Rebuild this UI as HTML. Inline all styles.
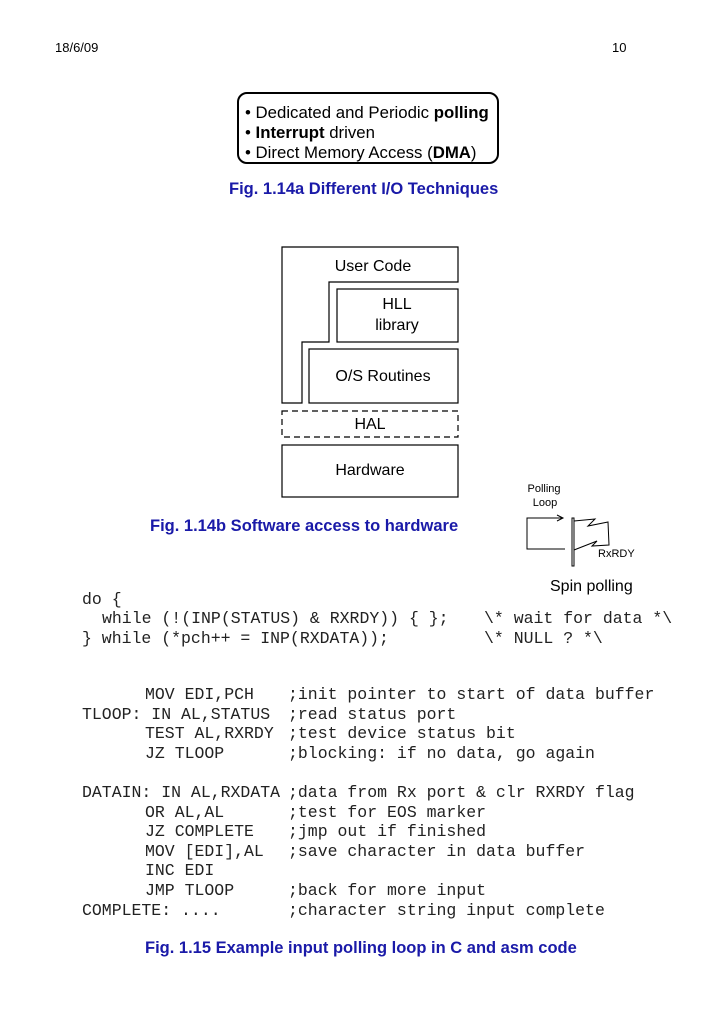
<!DOCTYPE html>
<html><head><meta charset="utf-8"><style>
html,body{margin:0;padding:0;background:#fff}
svg{display:block}
.s{font-family:"Liberation Sans",sans-serif}
.m{font-family:"Liberation Mono",monospace;font-size:16.5px;fill:#222}
.cap{font-family:"Liberation Sans",sans-serif;font-weight:bold;font-size:16.5px;fill:#1a1aa8}
</style></head><body>
<svg width="728" height="1030" viewBox="0 0 728 1030" xmlns="http://www.w3.org/2000/svg" xml:space="preserve">
<text class="s" x="55" y="52" font-size="13">18/6/09</text>
<text class="s" x="612" y="52" font-size="13">10</text>

<rect x="238" y="93" width="260" height="70" rx="9" fill="none" stroke="#000" stroke-width="2"/>
<g class="s" font-size="16.8">
<text x="245" y="118">• Dedicated and Periodic <tspan font-weight="bold">polling</tspan></text>
<text x="245" y="138">• <tspan font-weight="bold">Interrupt</tspan> driven</text>
<text x="245" y="158">• Direct Memory Access (<tspan font-weight="bold">DMA</tspan>)</text>
</g>
<text class="cap" x="229" y="194">Fig. 1.14a  Different I/O Techniques</text>

<g fill="none" stroke="#000" stroke-width="1.2">
<path d="M282 247 H458 V282 H329 V342 H302 V403 H282 Z"/>
<rect x="337" y="289" width="121" height="53"/>
<rect x="309" y="349" width="149" height="54"/>
<rect x="282" y="411" width="176" height="26" stroke-dasharray="6,4"/>
<rect x="282" y="445" width="176" height="52"/>
</g>
<g class="s" font-size="16" text-anchor="middle">
<text x="373" y="271">User Code</text>
<text x="397" y="309">HLL</text>
<text x="397" y="330">library</text>
<text x="383" y="381">O/S Routines</text>
<text x="370" y="429">HAL</text>
<text x="370" y="475">Hardware</text>
</g>
<text class="cap" x="150" y="531">Fig. 1.14b  Software access to hardware</text>

<g class="s" font-size="11" text-anchor="middle">
<text x="544" y="492">Polling</text>
<text x="545" y="506">Loop</text>
</g>
<g fill="none" stroke="#000" stroke-width="1">
<path d="M565 549 H527 V518 H562"/>
<path d="M557 515 L563 518 L557 521"/>
<rect x="572" y="518" width="2" height="48"/>
<path d="M574 521 L595 519 L588 526 L608 522 L609 545 L592 546 L597 541 L574 550"/>
</g>
<text class="s" x="598" y="557" font-size="11">RxRDY</text>
<text class="s" x="550" y="591" font-size="16">Spin polling</text>

<g class="m">
<text x="82" y="604">do {</text>
<text x="102" y="623">while (!(INP(STATUS) &amp; RXRDY)) { };</text>
<text x="484" y="623">\* wait for data *\</text>
<text x="82" y="643">} while (*pch++ = INP(RXDATA));</text>
<text x="484" y="643">\* NULL ? *\</text>

<text x="145" y="699">MOV EDI,PCH</text>
<text x="82" y="719">TLOOP: IN AL,STATUS</text>
<text x="145" y="738">TEST AL,RXRDY</text>
<text x="145" y="758">JZ TLOOP</text>
<text x="82" y="797">DATAIN: IN AL,RXDATA</text>
<text x="145" y="817">OR AL,AL</text>
<text x="145" y="836">JZ COMPLETE</text>
<text x="145" y="856">MOV [EDI],AL</text>
<text x="145" y="875">INC EDI</text>
<text x="145" y="895">JMP TLOOP</text>
<text x="82" y="915">COMPLETE: ....</text>

<text x="288" y="699">;init pointer to start of data buffer</text>
<text x="288" y="719">;read status port</text>
<text x="288" y="738">;test device status bit</text>
<text x="288" y="758">;blocking: if no data, go again</text>
<text x="288" y="797">;data from Rx port &amp; clr RXRDY flag</text>
<text x="288" y="817">;test for EOS marker</text>
<text x="288" y="836">;jmp out if finished</text>
<text x="288" y="856">;save character in data buffer</text>
<text x="288" y="895">;back for more input</text>
<text x="288" y="915">;character string input complete</text>
</g>

<text class="cap" x="145" y="953">Fig. 1.15  Example input polling loop in C and asm code</text>
</svg>
</body></html>
